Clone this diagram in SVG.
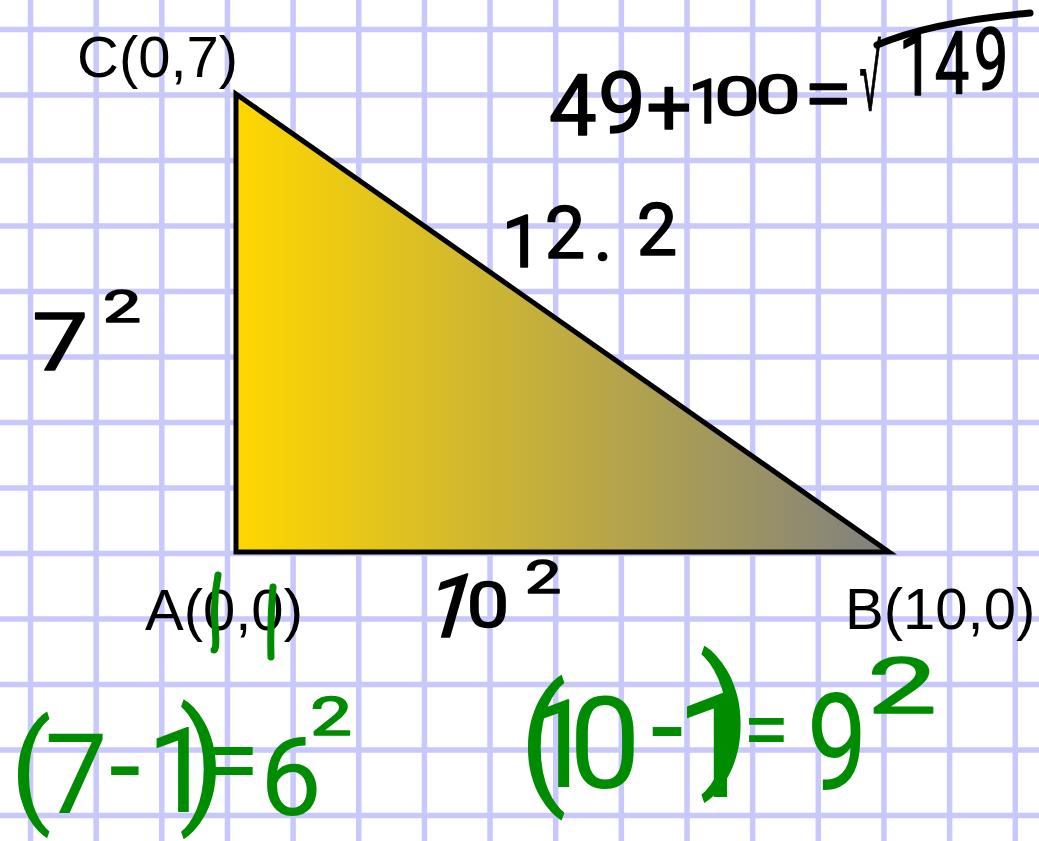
<svg xmlns="http://www.w3.org/2000/svg" width="1039" height="841" viewBox="0 0 1039 841">
<defs>
<linearGradient id="tri" x1="236" y1="0" x2="889" y2="0" gradientUnits="userSpaceOnUse">
<stop offset="0" stop-color="#ffd700"/>
<stop offset="1" stop-color="#808080"/>
</linearGradient>
<style>
.grid{stroke:#c8c8fc;stroke-width:5.5;fill:none}
.lbl{font-family:"Liberation Sans",Arial,sans-serif;font-size:58px;fill:#000}
.hw{font-family:Roboto,"Liberation Sans",sans-serif;stroke-width:1.5;stroke-linejoin:round;stroke-linecap:round;text-anchor:middle}
.big{stroke-width:0}
.k{fill:#000;stroke:#000}
.g{fill:#008c00;stroke:#008c00}
.ink{fill:none;stroke-width:7;stroke-linecap:round;stroke-linejoin:round}
</style>
</defs>
<rect width="1039" height="841" fill="#ffffff"/>
<g id="grid">
<path class="grid" d="M30.5,0V841M96.15,0V841M161.8,0V841M227.45,0V841M293.1,0V841M358.75,0V841M424.4,0V841M490.05,0V841M555.7,0V841M621.35,0V841M687,0V841M752.65,0V841M818.3,0V841M883.95,0V841M949.6,0V841M1015.25,0V841"/>
<path class="grid" d="M0,29.5H1039M0,95H1039M0,160.5H1039M0,226H1039M0,291.5H1039M0,357H1039M0,422.5H1039M0,488H1039M0,553.5H1039M0,619H1039M0,684.5H1039M0,750H1039M0,815.5H1039"/>
</g>
<g id="triangle">
<polygon points="236,94 236,552 889,552" fill="url(#tri)" stroke="#000" stroke-width="5"/>
</g>
<g id="labels">
<text class="lbl" x="77" y="77">C(0,7)</text>
<text class="lbl" x="145" y="630">A(0,0)</text>
<text class="lbl" x="845" y="629">B(10,0)</text>
</g>
<g id="sum-note">
<text class="hw k" font-size="85" x="573 622" y="135 133">49</text>
<text class="hw k" font-size="80" x="669" y="135">+</text>
<text class="hw k" font-size="62" x="706" y="123" stroke-width="3">1</text>
<text class="hw k" font-size="54" transform="scale(1.5,1)" x="491.3 518.7" y="115 113" stroke-width="3">00</text>
<text class="hw k" font-size="70" transform="translate(828,118) scale(1.25,1)" stroke-width="3">=</text>
<text class="hw k" font-size="92" style="font-family:'Liberation Sans',sans-serif" transform="translate(870,110) scale(0.42,1)" stroke-width="4">√</text>
<path class="ink" stroke="#000" d="M877,45Q930,22 1030,13"/>
<text class="hw k" font-size="88" transform="scale(0.7,1)" x="1308.6 1360 1415.7" y="95 93 90">149</text>
</g>
<g id="side-notes">
<text class="hw k" font-size="72" x="522 565 603 657" y="267 258 260 255">12.2</text>
<text class="hw k" font-size="80" transform="translate(60,370) scale(1.25,1)">7</text>
<text class="hw k" font-size="45" transform="translate(122,322) scale(1.5,1)" stroke-width="3">2</text>
<text class="hw k" font-size="88" transform="translate(443,637) skewX(-16)">1</text>
<text class="hw k" font-size="63" transform="translate(488,627) scale(1.2,1)" stroke-width="3">0</text>
<text class="hw k" font-size="46" transform="translate(543,593) scale(1.4,1)" stroke-width="3">2</text>
</g>
<g id="green-notes">
<path class="ink" stroke="#008c00" d="M218,575Q213,600 215,625T214,650M273,587Q270,620 271,657"/>
<text class="hw g big"><tspan font-size="122" x="31" y="810">(</tspan><tspan font-size="112" x="76" y="813">7</tspan><tspan font-size="115" x="125" y="806">-</tspan><tspan font-size="118" x="180" y="812">1</tspan><tspan font-size="135" x="202" y="808">)</tspan><tspan font-size="100" x="232" y="795">=</tspan><tspan font-size="110" x="291" y="815">6</tspan></text>
<text class="hw g" font-size="53" transform="translate(331,735) scale(1.4,1)" stroke-width="3">2</text>
<text class="hw g big"><tspan font-size="141" x="543" y="788">(</tspan><tspan font-size="122" x="560" y="787">1</tspan><tspan font-size="128" x="605" y="788">0</tspan><tspan font-size="120" x="667" y="768">-</tspan><tspan font-size="147" x="716" y="797">1</tspan><tspan font-size="152" x="725" y="768">)</tspan><tspan font-size="85" x="766" y="759">=</tspan></text>
<text class="hw g big" font-size="135" transform="translate(837,790) scale(0.8,1)">9</text>
<text class="hw g" font-size="77" transform="translate(902,713) scale(1.6,1)" stroke-width="3">2</text>
</g>
</svg>
